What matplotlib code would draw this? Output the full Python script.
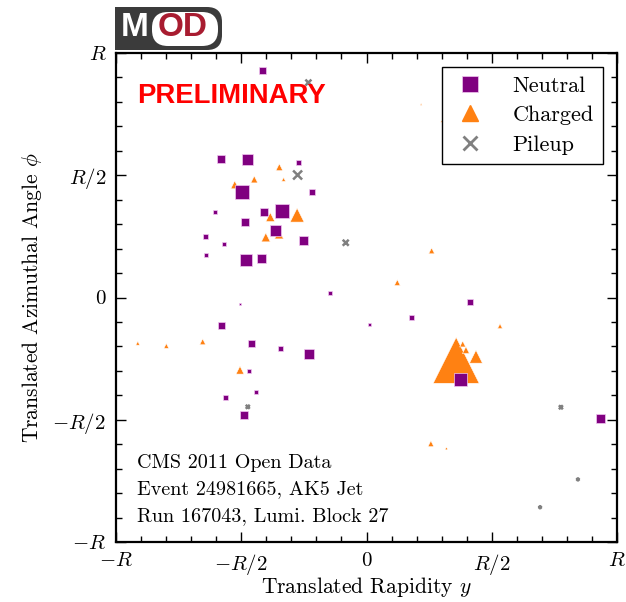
import matplotlib
matplotlib.use("Agg")
import matplotlib.pyplot as plt
from matplotlib.lines import Line2D
from matplotlib.patches import FancyBboxPatch, Rectangle
import numpy as np

plt.rcParams["font.family"] = "serif"
plt.rcParams["font.serif"] = ["cmr10", "DejaVu Serif"]
plt.rcParams["mathtext.fontset"] = "cm"
plt.rcParams["axes.formatter.use_mathtext"] = True

# Particle positions in translated (y, phi) coordinates, units of the jet radius R,
# with transverse momenta in GeV.
neutral_y = [-0.416, -0.582, -0.476, -0.273, -0.498, -0.218, -0.606, -0.408, -0.339,
             -0.486, -0.362, -0.251, -0.644, -0.569, -0.642, -0.482, -0.421, -0.147,
             -0.506, -0.578, -0.461, -0.345, -0.230, -0.470, -0.441, -0.562, -0.488,
             0.413, 0.180, 0.011, 0.376, 0.933]
neutral_phi = [0.928, 0.565, 0.566, 0.554, 0.430, 0.430, 0.348, 0.348, 0.355,
               0.309, 0.276, 0.235, 0.249, 0.218, 0.175, 0.153, 0.159, 0.018,
               -0.027, -0.114, -0.187, -0.209, -0.232, -0.302, -0.385, -0.411, -0.482,
               -0.017, -0.080, -0.111, -0.335, -0.496]
neutral_pt = [4.9, 6.4, 12.1, 2.5, 19.6, 3.6, 1.6, 6.4, 19.6,
              6.4, 12.1, 8.1, 2.5, 1.6, 1.6, 14.4, 8.1, 1.6,
              0.4, 4.9, 4.9, 2.5, 10.0, 1.6, 1.6, 2.5, 6.4,
              3.6, 2.5, 0.9, 16.9, 8.1]

charged_y = [-0.348, -0.448, -0.331, -0.526, -0.384, -0.277, -0.402, -0.349,
             0.218, 0.300, 0.260, -0.913, -0.799, -0.654, -0.505, 0.123, 0.533,
             0.358, 0.384, 0.397, 0.437, 0.257, 0.319]
charged_phi = [0.533, 0.483, 0.483, 0.461, 0.329, 0.337, 0.246, 0.258,
               0.790, 0.721, 0.191, -0.187, -0.198, -0.181, -0.297, 0.061, -0.117,
               -0.257, -0.190, -0.215, -0.242, -0.598, -0.617]
charged_pt = [4.9, 4.9, 1.6, 6.4, 8.1, 19.6, 8.1, 8.1,
              0.4, 0.4, 3.6, 1.6, 2.5, 3.6, 6.4, 3.6, 2.5,
              211.6, 3.6, 4.9, 16.9, 3.6, 0.9]

pileup_y = [-0.232, -0.275, -0.083, -0.474, 0.776, 0.844, 0.693]
pileup_phi = [0.879, 0.501, 0.224, -0.447, -0.449, -0.744, -0.858]
pileup_pt = [3.6, 8.1, 3.6, 1.6, 1.6, 0.9, 0.9]

tick_vals = [-1.0, -0.5, 0.0, 0.5, 1.0]
tick_labels = [r"$-R$", r"$-R/2$", r"$0$", r"$R/2$", r"$R$"]
info_lines = ["CMS 2011 Open Data", "Event 24981665, AK5 Jet", "Run 167043, Lumi. Block 27"]

PURPLE = "#800080"
ORANGE = "#ff8112"
GRAY = "#808080"
AREA_PER_GEV = 5.18  # marker area (pt^2) per GeV

W, H = 626, 602
fig = plt.figure(figsize=(W / 100, H / 100), dpi=100)
ax = fig.add_axes([116 / W, 1 - 542 / H, 501 / W, 489 / H])

ax.scatter(charged_y, charged_phi, s=np.array(charged_pt) * AREA_PER_GEV, marker="^",
           color=ORANGE, edgecolors="white", linewidths=0.4, zorder=2)
ax.scatter(neutral_y, neutral_phi, s=np.array(neutral_pt) * AREA_PER_GEV, marker="s",
           color=PURPLE, edgecolors="#f0c8f0", linewidths=0.5, zorder=3)
ax.scatter(pileup_y, pileup_phi, s=np.array(pileup_pt) * AREA_PER_GEV, marker="x",
           color=GRAY, linewidths=1.8, zorder=4)

ax.set_xlim(-1, 1)
ax.set_ylim(-1, 1)
ax.set_xticks(tick_vals)
ax.set_xticklabels(tick_labels)
ax.set_yticks(tick_vals)
ax.set_yticklabels(tick_labels)
ax.set_xticks(np.arange(-1, 1.001, 0.1), minor=True)
ax.set_yticks(np.arange(-1, 1.001, 0.1), minor=True)
ax.tick_params(which="both", direction="in", top=True, right=True, width=1.0,
               labelsize=15, pad=7)
ax.tick_params(which="major", length=7)
ax.tick_params(which="minor", length=4)
for sp in ax.spines.values():
    sp.set_linewidth(1.6)

ax.set_xlabel(r"Translated Rapidity $y$", fontsize=15.5, labelpad=-1)
ax.set_ylabel(r"Translated Azimuthal Angle $\phi$", fontsize=15.5, labelpad=6)

handles = [
    Line2D([], [], marker="s", color=PURPLE, linestyle="none", markersize=12,
           markeredgecolor="#f0c8f0", markeredgewidth=0.5),
    Line2D([], [], marker="^", color=ORANGE, linestyle="none", markersize=12),
    Line2D([], [], marker="x", color=GRAY, linestyle="none", markersize=10,
           markeredgewidth=2),
]
leg = ax.legend(handles, ["Neutral", "Charged", "Pileup"], loc="upper right",
                bbox_to_anchor=(0.972, 0.971), borderaxespad=0, fontsize=16,
                frameon=True, fancybox=False, framealpha=1, edgecolor="black",
                handlelength=1.8, handletextpad=1.0, labelspacing=0.45,
                borderpad=0.4)
leg.get_frame().set_linewidth(1.0)
leg.set_zorder(10)

ax.text(0.042, 0.898, "PRELIMINARY", transform=ax.transAxes, color="red",
        fontsize=19.8, fontweight="bold", family="Liberation Sans", va="baseline",
        ha="left", zorder=5)

for line, base_px in zip(info_lines, [468, 494, 521]):
    ax.text(0.042, (542 - base_px) / 489, line, transform=ax.transAxes,
            fontsize=14.5, va="baseline", ha="left")

# MOD badge drawn in figure pixel coordinates
ov = fig.add_axes([0, 0, 1, 1], zorder=20)
ov.set_xlim(0, W)
ov.set_ylim(H, 0)
ov.axis("off")
ov.patch.set_visible(False)
DARK = "#3b3b3b"
ov.add_patch(FancyBboxPatch((115, 7), 107, 43, boxstyle="round,pad=0,rounding_size=15",
                            facecolor=DARK, edgecolor="none"))
ov.add_patch(Rectangle((115, 7), 30, 43, facecolor=DARK, edgecolor="none"))
ov.add_patch(FancyBboxPatch((152, 12), 66, 34, boxstyle="round,pad=0,rounding_size=16",
                            facecolor="white", edgecolor="none"))
ov.text(135, 28, "M", color="white", fontsize=24, fontweight="bold",
        family="Liberation Sans", ha="center", va="center")
ov.text(183, 28, "OD", color="#a81c30", fontsize=24, fontweight="bold",
        family="Liberation Sans", ha="center", va="center")

fig.savefig("out.png", dpi=100)
